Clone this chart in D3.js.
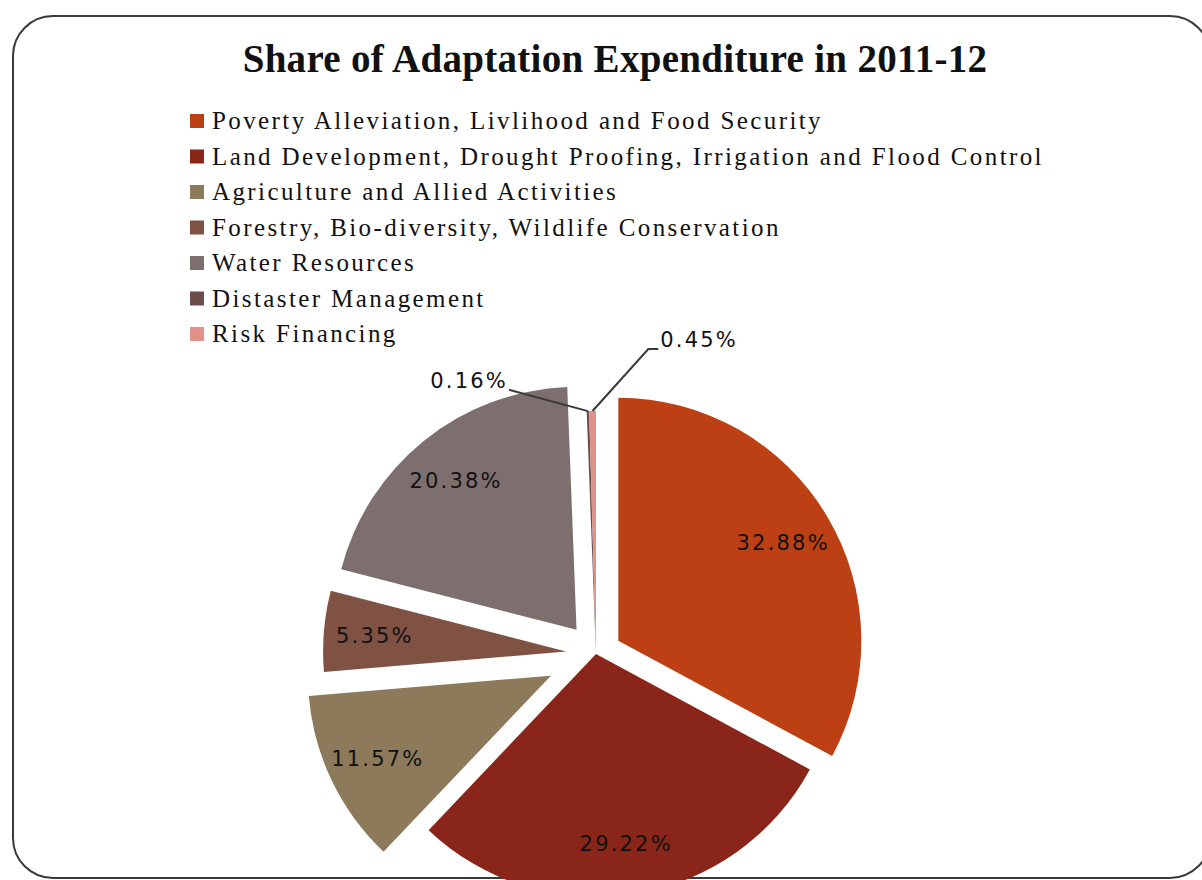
<!DOCTYPE html>
<html>
<head>
<meta charset="utf-8">
<script src="https://cdn.jsdelivr.net/npm/d3@7"></script>
<style>
  body { margin: 0; background: #fff; }
  svg { display: block; }
</style>
</head>
<body>
<div class="container"></div>
<script>
var chartWidth = 1202,
    chartHeight = 880;

var title = 'Share of Adaptation Expenditure in 2011-12';

var categories = [
  'Poverty Alleviation, Livlihood and Food Security',
  'Land Development, Drought Proofing, Irrigation and Flood Control',
  'Agriculture and Allied Activities',
  'Forestry, Bio-diversity, Wildlife Conservation',
  'Water Resources',
  'Distaster Management',
  'Risk Financing'
];

var values = [32.88, 29.22, 11.57, 5.35, 20.38, 0.16, 0.45];

var colours = ['#bc4014', '#8a2619', '#8c7a5b', '#7f5243', '#7e6f6f', '#6e4c4c', '#e0928a'];

// how far each slice is pulled out from the centre (px)
var explode = [26, 0, 50, 30, 31, 0, 0];

// small slices get their label outside with a leader line
var outside = { 5: { r: 1.24, da: -23 }, 6: { r: 1.36, da: 19 } };

var cx = 596, cy = 654, radius = 243;

var svg = d3.select('.container')
  .append('svg')
    .attr('xmlns', 'http://www.w3.org/2000/svg')
    .attr('width', chartWidth)
    .attr('height', chartHeight);

// rounded frame
svg.append('rect')
  .attr('x', 13).attr('y', 16)
  .attr('width', 1197).attr('height', 862)
  .attr('rx', 40).attr('ry', 40)
  .attr('fill', '#fff')
  .attr('stroke', '#3a3a3a')
  .attr('stroke-width', 2);

svg.append('text')
  .attr('x', 615).attr('y', 72)
  .attr('text-anchor', 'middle')
  .attr('font-family', '"Liberation Serif", serif')
  .attr('font-weight', 'bold')
  .attr('font-size', 39)
  .attr('letter-spacing', 0.3)
  .attr('fill', '#111')
  .text(title);

// legend
var legend = svg.append('g').attr('transform', 'translate(190,121)');
var item = legend.selectAll('g.item')
  .data(categories)
  .enter().append('g')
    .attr('class', 'item')
    .attr('transform', function(d, i) { return 'translate(0,' + (i * 35.5) + ')'; });

item.append('rect')
  .attr('x', 0).attr('y', -7)
  .attr('width', 14).attr('height', 14)
  .attr('fill', function(d, i) { return colours[i]; });

item.append('text')
  .attr('x', 22).attr('y', 8)
  .attr('font-family', '"Liberation Serif", serif')
  .attr('font-size', 25)
  .attr('letter-spacing', 2.4)
  .attr('fill', '#111')
  .text(function(d) { return d; });

// pie
var pie = d3.pie().sort(null).value(function(d) { return d; });
var arcs = pie(values);

var arc = d3.arc().innerRadius(0).outerRadius(radius);
var labelArc = d3.arc().innerRadius(radius * 0.79).outerRadius(radius * 0.79);

function shift(d, i) {
  var a = (d.startAngle + d.endAngle) / 2;
  return [Math.sin(a) * explode[i], -Math.cos(a) * explode[i]];
}

var g = svg.append('g').attr('transform', 'translate(' + cx + ',' + cy + ')');

g.selectAll('path.slice')
  .data(arcs)
  .enter().append('path')
    .attr('class', 'slice')
    .attr('d', arc)
    .attr('fill', function(d, i) { return colours[i]; })
    .attr('transform', function(d, i) { return 'translate(' + shift(d, i) + ')'; });

var labelFont = '"DejaVu Sans", sans-serif';

// inside labels
g.selectAll('text.inlabel')
  .data(arcs.filter(function(d, i) { return !outside[i]; }))
  .enter().append('text')
    .attr('class', 'inlabel')
    .attr('transform', function(d) {
      var i = d.index, c = labelArc.centroid(d), s = shift(d, i);
      return 'translate(' + (c[0] + s[0]) + ',' + (c[1] + s[1]) + ')';
    })
    .attr('dy', '0.35em')
    .attr('text-anchor', 'middle')
    .attr('font-family', labelFont)
    .attr('font-size', 21)
    .attr('letter-spacing', 2.2)
    .attr('fill', '#111')
    .text(function(d) { return d.data.toFixed(2) + '%'; });

// outside labels with leader lines
arcs.forEach(function(d, i) {
  if (!outside[i]) return;
  var o = outside[i];
  var a = (d.startAngle + d.endAngle) / 2;
  var p0 = [Math.sin(a) * radius, -Math.cos(a) * radius];
  var la = a + o.da * Math.PI / 180;
  var p1 = [Math.sin(la) * radius * o.r, -Math.cos(la) * radius * o.r];
  var txt = d.data.toFixed(2) + '%';
  var left = p1[0] < p0[0];

  var t = g.append('text')
    .attr('x', p1[0]).attr('y', p1[1])
    .attr('dy', '0.35em')
    .attr('text-anchor', 'middle')
    .attr('font-family', labelFont)
    .attr('font-size', 21)
    .attr('letter-spacing', 2.2)
    .attr('fill', '#111')
    .text(txt);
  var w = t.node().getComputedTextLength();

  var pts;
  if (left) {
    pts = [[p1[0] + w / 2 + 1, p1[1] + 9], p0];
  } else {
    pts = [[p1[0] - w / 2 - 2, p1[1] + 9], [p1[0] - w / 2 - 12, p1[1] + 9], p0];
  }
  g.append('path')
    .attr('d', d3.line()(pts))
    .attr('fill', 'none')
    .attr('stroke', '#3a3a3a')
    .attr('stroke-width', 2);
});
</script>
</body>
</html>
